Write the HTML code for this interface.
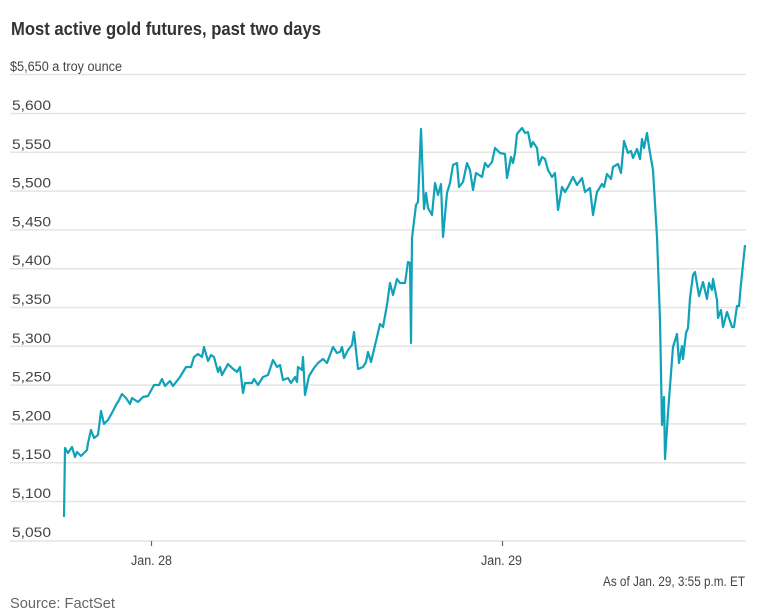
<!DOCTYPE html>
<html><head><meta charset="utf-8"><style>
html,body{margin:0;padding:0;background:#fff;width:776px;height:611px;overflow:hidden}
svg{display:block}
text{font-family:"Liberation Sans Narrow","Liberation Sans",sans-serif}
</style></head><body>
<svg width="776" height="611" viewBox="0 0 776 611">
<text x="11" y="35" font-size="18" font-weight="bold" fill="#333" font-family="Liberation Sans, sans-serif" textLength="310" lengthAdjust="spacingAndGlyphs">Most active gold futures, past two days</text>
<g stroke="#e4e4e4" stroke-width="1.5">
<line x1="10" x2="746" y1="74.5" y2="74.5"/>
<line x1="10" x2="746" y1="113.5" y2="113.5"/>
<line x1="10" x2="746" y1="152.3" y2="152.3"/>
<line x1="10" x2="746" y1="191.1" y2="191.1"/>
<line x1="10" x2="746" y1="229.9" y2="229.9"/>
<line x1="10" x2="746" y1="268.7" y2="268.7"/>
<line x1="10" x2="746" y1="307.5" y2="307.5"/>
<line x1="10" x2="746" y1="346.3" y2="346.3"/>
<line x1="10" x2="746" y1="385.1" y2="385.1"/>
<line x1="10" x2="746" y1="423.9" y2="423.9"/>
<line x1="10" x2="746" y1="462.7" y2="462.7"/>
<line x1="10" x2="746" y1="501.5" y2="501.5"/>
<line x1="10" x2="746" y1="541" y2="541"/>
</g>
<g stroke="#666" stroke-width="1.2"><line x1="151.5" x2="151.5" y1="541" y2="546"/><line x1="502.5" x2="502.5" y1="541" y2="546"/></g>
<g font-size="13.5" fill="#444">
<text x="10" y="71" textLength="112" lengthAdjust="spacingAndGlyphs">$5,650 a troy ounce</text>
<text x="12" y="110" textLength="39" lengthAdjust="spacingAndGlyphs">5,600</text>
<text x="12" y="148.8" textLength="39" lengthAdjust="spacingAndGlyphs">5,550</text>
<text x="12" y="187.6" textLength="39" lengthAdjust="spacingAndGlyphs">5,500</text>
<text x="12" y="226.4" textLength="39" lengthAdjust="spacingAndGlyphs">5,450</text>
<text x="12" y="265.2" textLength="39" lengthAdjust="spacingAndGlyphs">5,400</text>
<text x="12" y="304" textLength="39" lengthAdjust="spacingAndGlyphs">5,350</text>
<text x="12" y="342.8" textLength="39" lengthAdjust="spacingAndGlyphs">5,300</text>
<text x="12" y="381.6" textLength="39" lengthAdjust="spacingAndGlyphs">5,250</text>
<text x="12" y="420.4" textLength="39" lengthAdjust="spacingAndGlyphs">5,200</text>
<text x="12" y="459.2" textLength="39" lengthAdjust="spacingAndGlyphs">5,150</text>
<text x="12" y="498" textLength="39" lengthAdjust="spacingAndGlyphs">5,100</text>
<text x="12" y="537" textLength="39" lengthAdjust="spacingAndGlyphs">5,050</text>
<text x="131" y="565" textLength="41" lengthAdjust="spacingAndGlyphs">Jan. 28</text>
<text x="481" y="565" textLength="41" lengthAdjust="spacingAndGlyphs">Jan. 29</text>
<text x="603" y="586" textLength="142" lengthAdjust="spacingAndGlyphs">As of Jan. 29, 3:55 p.m. ET</text>
</g>
<text x="10" y="608" font-size="15" fill="#666" textLength="105" lengthAdjust="spacingAndGlyphs">Source: FactSet</text>
<polyline fill="none" stroke="#10a2b9" stroke-width="2.2" stroke-linejoin="round" points="64,517 65,448 68,453 72,447 75,457 77,452 81,456 87,450 88,443 91,430 94,438 98,435 101,411 104,424 108,420 113,411 117,403 118,402 122,394 126,398 130,404 132,398 138,402 143,397 148,396 154,385 159,385 162,379 165,386 170,381 173,386 180,377 186,367 191,367 194,357 198,354 202,357 204,347 208,361 211,355 214,357 218,372 220,367 222,375 228,364 232,368 237,372 240,367 243,393 245,383 252,383 254,379 258,385 263,377 268,375 273,360 277,367 280,365 283,380 288,378 291,383 295,377 297,382 298,367 302,370 303,357 305,395 309,376 314,368 318,363 323,359 327,363 333,347 337,353 340,352 342,347 344,358 348,350 352,345 354,332 358,369 363,367 366,362 368,352 371,362 377,337 380,324 383,327 387,305 390,283 393,295 397,279 400,283 405,283 408,262 410,263 411,343 412,238 416,205 418,202 421,129 424,209 426,193 428,208 432,215 435,183 438,195 441,184 443,237 447,193 450,183 453,165 457,163 459,187 463,182 467,163 470,170 473,190 476,173 482,177 485,163 488,167 492,162 495,148 500,153 505,154 507,178 511,157 513,163 515,153 517,134 522,128 525,133 528,132 531,147 533,142 537,148 539,165 542,157 545,159 548,170 552,177 555,173 558,210 562,187 565,192 568,187 573,177 577,185 582,178 585,192 590,188 593,215 597,192 602,184 604,187 607,174 611,179 613,167 618,164 621,173 624,141 628,153 631,151 633,158 637,149 640,159 642,139 644,148 647,133 649,147 653,170 657,237 660,320 662,425 664,397 665,459 668,413 671,373 673,347 677,334 679,363 682,346 683,359 686,333 688,328 690,298 693,275 695,272 699,296 703,282 707,299 709,283 712,290 713,279 717,300 718,318 721,310 723,327 727,312 732,327 734,327 737,306 739,306 741,284 745,245"/>
</svg>
</body></html>
